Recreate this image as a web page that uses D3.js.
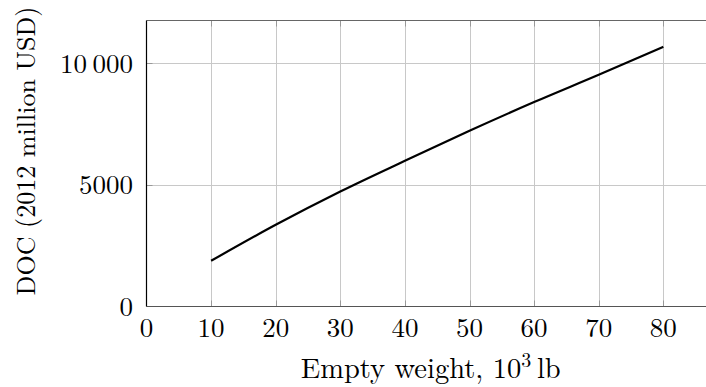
<!DOCTYPE html>
<html>
<head>
<meta charset="utf-8">
<script src="https://cdn.jsdelivr.net/npm/d3@7"></script>
<style>
  html, body { margin: 0; padding: 0; background: #fff; }
  svg { display: block; }
  text { font-family: "Latin Modern Roman", "CMU Serif", "Liberation Serif", serif; fill: #000; }
</style>
</head>
<body>
<svg id="chart" width="706" height="387"></svg>
<script>
// Data
const emptyWeight = [10, 20, 30, 40, 50, 60, 70, 80];          // 10^3 lb
const docValues   = [1877, 3357, 4725, 5986, 7218, 8398, 9519, 10670]; // 2012 million USD
const xTicks = [0, 10, 20, 30, 40, 50, 60, 70, 80];
const yTicks = [0, 5000, 10000];
const xDomain = [0, 88];
const yDomain = [0, 11750];

(function () {
const svg = d3.select("#chart");
const pL = 146.5, pR = 715, pT = 20.5, pB = 306.5;

const x = d3.scaleLinear().domain(xDomain).range([pL, pR]);
const y = d3.scaleLinear().domain(yDomain).range([pB, pT]);

const fsTick = 27, fsX = 28.5, fsY = 26;
const g = svg.append("g");

// grid
g.selectAll(".vgrid").data(xTicks.filter(d => d > 0)).join("line")
  .attr("x1", d => Math.round(x(d)) + 0.5).attr("x2", d => Math.round(x(d)) + 0.5)
  .attr("y1", pT).attr("y2", pB)
  .attr("stroke", "#c8c8c8").attr("stroke-width", 1);
g.selectAll(".hgrid").data(yTicks.filter(d => d > 0)).join("line")
  .attr("y1", d => Math.round(y(d)) + 0.5).attr("y2", d => Math.round(y(d)) + 0.5)
  .attr("x1", pL).attr("x2", pR)
  .attr("stroke", "#c8c8c8").attr("stroke-width", 1);

// inner tick marks (darker)
const tl = 6;
g.selectAll(".xtickb").data(xTicks.filter(d => d > 0)).join("line")
  .attr("x1", d => Math.round(x(d)) + 0.5).attr("x2", d => Math.round(x(d)) + 0.5)
  .attr("y1", pB).attr("y2", pB - tl)
  .attr("stroke", "#999").attr("stroke-width", 1);
g.selectAll(".xtickt").data(xTicks.filter(d => d > 0)).join("line")
  .attr("x1", d => Math.round(x(d)) + 0.5).attr("x2", d => Math.round(x(d)) + 0.5)
  .attr("y1", pT).attr("y2", pT + tl)
  .attr("stroke", "#999").attr("stroke-width", 1);
g.selectAll(".ytick").data(yTicks.filter(d => d > 0)).join("line")
  .attr("y1", d => Math.round(y(d)) + 0.5).attr("y2", d => Math.round(y(d)) + 0.5)
  .attr("x1", pL).attr("x2", pL + tl)
  .attr("stroke", "#999").attr("stroke-width", 1);

// frame
g.append("line").attr("x1", pL).attr("x2", pR).attr("y1", pT).attr("y2", pT)
  .attr("stroke", "#666").attr("stroke-width", 1.2);
g.append("line").attr("x1", pL).attr("x2", pR).attr("y1", pB).attr("y2", pB)
  .attr("stroke", "#555").attr("stroke-width", 1.2);
g.append("line").attr("x1", pL).attr("x2", pL).attr("y1", pT).attr("y2", pB)
  .attr("stroke", "#000").attr("stroke-width", 1.2);

// data line
const line = d3.line().x((d, i) => x(emptyWeight[i])).y(d => y(d)).curve(d3.curveMonotoneX);
g.append("path").datum(docValues).attr("d", line)
  .attr("fill", "none").attr("stroke", "#000").attr("stroke-width", 2.2);

// tick labels
const fmtY = d => d >= 10000 ? d3.format(",")(d).replace(",", "\u2009") : String(d);
g.selectAll(".xl").data(xTicks).join("text")
  .attr("x", d => x(d)).attr("y", 337)
  .attr("text-anchor", "middle").attr("font-size", fsTick)
  .text(d => d);
g.selectAll(".yl").data(yTicks).join("text")
  .attr("x", 133).attr("y", d => y(d) + 9.5)
  .attr("text-anchor", "end").attr("font-size", fsTick)
  .text(fmtY);

// axis titles
const xt = g.append("text").attr("x", (pL + pR) / 2).attr("y", 378)
  .attr("text-anchor", "middle").attr("font-size", fsX);
xt.append("tspan").text("Empty weight, 10");
xt.append("tspan").attr("font-size", fsX * 0.7).attr("dy", -11).text("3");
xt.append("tspan").attr("dy", 11).text("\u2009lb");

g.append("text")
  .attr("transform", `translate(35, 151) rotate(-90)`)
  .attr("text-anchor", "middle").attr("font-size", fsY)
  .text("DOC (2012 million USD)");
})();
</script>
</body>
</html>
